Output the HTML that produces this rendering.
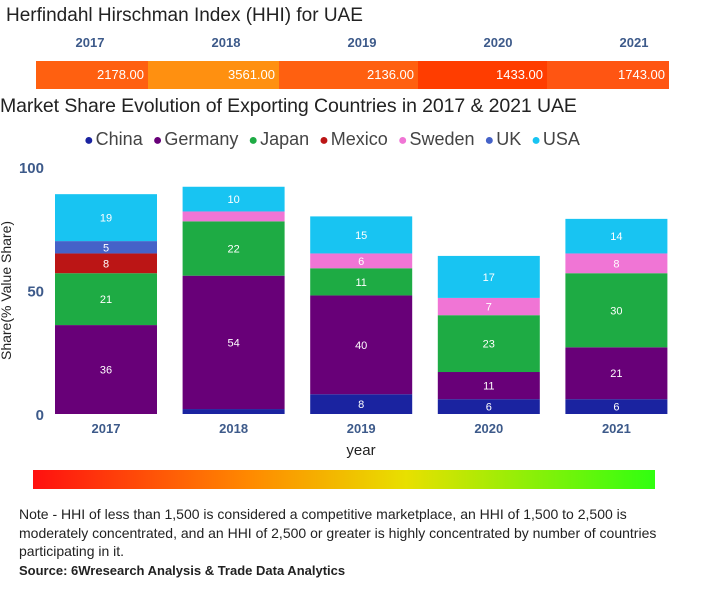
<!DOCTYPE html>
<html><head><meta charset="utf-8"><style>
body{margin:0;width:713px;height:600px;background:#fff;font-family:"Liberation Sans",sans-serif;position:relative;overflow:hidden}
.a{position:absolute}
</style></head><body>
<div class="a" style="left:6px;top:5px;font-size:19px;color:#222">Herfindahl Hirschman Index (HHI) for UAE</div>
<div id="hhi"></div>
<div class="a" style="left:0;top:95px;font-size:19.5px;color:#222;letter-spacing:-0.1px">Market Share Evolution of Exporting Countries in 2017 &amp; 2021 UAE</div>
<div id="legend" class="a" style="left:84px;top:129px;font-size:18px;color:#444;white-space:nowrap"></div>
<svg id="chart" class="a" style="left:0;top:150px" width="713" height="320"></svg>
<div class="a" style="left:33px;top:470px;width:622px;height:19px;background:linear-gradient(90deg,#ff1010,#ff8a00 35%,#e8e000 60%,#30ff10)"></div>
<div class="a" style="left:19px;top:505px;width:650px;font-size:14px;line-height:18.5px;color:#222">Note - HHI of less than 1,500 is considered a competitive marketplace, an HHI of 1,500 to 2,500 is moderately concentrated, and an HHI of 2,500 or greater is highly concentrated by number of countries participating in it.<br><b style="font-size:13px">Source: 6Wresearch Analysis &amp; Trade Data Analytics</b></div>
<script>
const years=["2017","2018","2019","2020","2021"];
const hhiValues=[2178,3561,2136,1433,1743];
const seriesNames=["China","Germany","Japan","Mexico","Sweden","UK","USA"];
const seriesColors=["#1a23a0","#680078","#1eab44","#bb1515","#f075d5","#4562c8","#18c4f2"];
const china=[0,2,8,6,6];
const germany=[36,54,40,11,21];
const japan=[21,22,11,23,30];
const mexico=[8,0,0,0,0];
const sweden=[0,4,6,7,8];
const uk=[5,0,0,0,0];
const usa=[19,10,15,17,14];
const series=[china,germany,japan,mexico,sweden,uk,usa];
const yTicks=[0,50,100];
const hhiEdges=[36,148,279,418,547,669];
const hhiCol=v=>v>=3000?"#ff9010":v>=2000?"#ff6010":v>=1600?"#ff5512":"#ff3d00";
const hhi=document.getElementById('hhi');
years.forEach((y,i)=>{
 const l=document.createElement('div');l.className='a';
 
 
 l.style.cssText=`left:${40+i*136}px;top:35px;width:100px;text-align:center;font-size:13px;font-weight:bold;color:#3d5a8a`;
 l.textContent=y;hhi.appendChild(l);
 const c=document.createElement('div');c.className='a';
 
 
 c.style.cssText=`left:${hhiEdges[i]}px;top:61px;width:${hhiEdges[i+1]-hhiEdges[i]}px;height:28px;background:${hhiCol(hhiValues[i])};color:#fff;font-size:13px;text-align:right;line-height:28px;box-sizing:border-box;padding-right:4px`;
 c.textContent=hhiValues[i].toFixed(2);hhi.appendChild(c);
});
const lg=document.getElementById('legend');
seriesNames.forEach((n,i)=>{
 const s=document.createElement('span');
 
 
 s.style.marginRight='10px';
 s.innerHTML=`<span style="color:${seriesColors[i]};font-size:16px;margin-right:2px">●</span>${n}`;
 lg.appendChild(s);
});
const svg=document.getElementById('chart');const NS="http://www.w3.org/2000/svg";
const OY=150;const y0=414-OY,y100=167-OY;
const yS=v=>y0+(y100-y0)*v/100;
const xS=i=>55+i*127.6;const bw=102;
function el(t,a,txt){const e=document.createElementNS(NS,t);for(const k in a)e.setAttribute(k,a[k]);if(txt!=null)e.textContent=txt;svg.appendChild(e);return e;}
yTicks.forEach(t=>{const e=el('text',{x:44,y:yS(t)+6,'text-anchor':'end','font-size':15,'font-weight':'bold',fill:'#3d5a8a'},t);

});
const yt=el('text',{x:0,y:0,transform:`translate(11,${yS(50)}) rotate(-90)`,'text-anchor':'middle','font-size':14,fill:'#222'},'Share(% Value Share)');


years.forEach((yr,i)=>{
 let acc=0;
 series.forEach((s,k)=>{
  const v=s[i];if(!v)return;
  const top=yS(acc+v),bot=yS(acc);
  const r=el('rect',{x:xS(i),y:top,width:bw,height:bot-top,fill:seriesColors[k]});
  
  
  if(v>=5){const t=el('text',{x:xS(i)+bw/2,y:(top+bot)/2+4,'text-anchor':'middle','font-size':11,fill:'#fff'},v);
  
  }
  acc+=v;
 });
 const xl=el('text',{x:xS(i)+bw/2,y:yS(0)+19,'text-anchor':'middle','font-size':13,'font-weight':'bold',fill:'#3d5a8a'},yr);
 
 
});
const xt=el('text',{x:361,y:yS(0)+41,'text-anchor':'middle','font-size':15,fill:'#222'},'year');


</script>
</body></html>
